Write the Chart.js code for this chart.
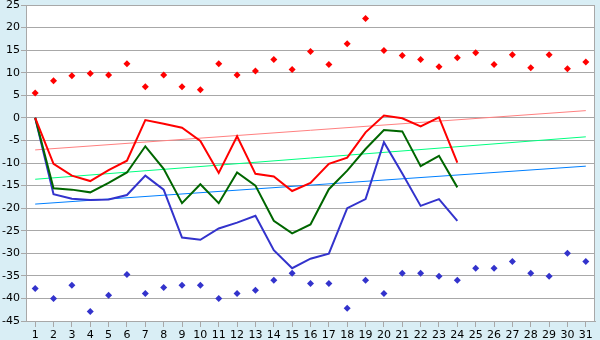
<!DOCTYPE html>
<html>
<head>
<meta charset="utf-8">
<script src="https://cdn.jsdelivr.net/npm/chart.js@4/dist/chart.umd.min.js"></script>
<style>
html,body{margin:0;padding:0;background:#d9eef5;}
#wrap{width:600px;height:340px;}
</style>
</head>
<body>
<div id="wrap"><canvas id="c" width="600" height="340"></canvas></div>
<script>
const categories = ['1','2','3','4','5','6','7','8','9','10','11','12','13','14','15','16','17','18','19','20','21','22','23','24','25','26','27','28','29','30','31'];
const redLine   = [0,-10.2,-12.8,-14.0,-11.6,-9.5,-0.5,-1.3,-2.2,-5.1,-12.2,-4.1,-12.4,-13.0,-16.2,-14.4,-10.2,-8.8,-3.2,0.5,-0.1,-1.9,0.1,-9.9];
const greenLine = [0,-15.6,-15.9,-16.5,-14.4,-12.1,-6.3,-11.3,-18.9,-14.7,-18.9,-12.1,-15.0,-22.8,-25.6,-23.6,-15.8,-11.7,-6.9,-2.7,-3.0,-10.7,-8.4,-15.4];
const blueLine  = [0,-16.9,-17.9,-18.2,-18.1,-17.1,-12.8,-15.9,-26.5,-27.0,-24.5,-23.2,-21.7,-29.3,-33.3,-31.2,-30.1,-20.0,-18.0,-5.4,-12.3,-19.5,-18.0,-22.8];
const redPoints  = [5.5,8.2,9.3,9.8,9.5,12.0,6.9,9.5,6.9,6.2,12.0,9.5,10.4,12.9,10.7,14.7,11.8,16.4,22.0,14.9,13.8,12.9,11.3,13.3,14.4,11.8,14.0,11.1,14.0,10.9,12.4];
const bluePoints = [-37.8,-40.0,-37.1,-42.9,-39.3,-34.7,-38.9,-37.6,-37.1,-37.1,-40.0,-38.9,-38.2,-36.0,-34.4,-36.7,-36.7,-42.2,-36.0,-38.9,-34.4,-34.4,-35.1,-36.0,-33.3,-33.3,-31.8,-34.4,-35.1,-30.0,-31.8];
const redTrend   = [-7.1, 1.6];
const greenTrend = [-13.6, -4.2];
const blueTrend  = [-19.1, -10.7];
const yTicks = {min:-45, max:25, step:5};

function trendData(ends){
  const d = categories.map(()=>null);
  d[0] = ends[0];
  d[d.length-1] = ends[1];
  return d;
}

const bgPlugin = {
  id:'bg',
  beforeDraw(chart){
    const {ctx, chartArea:a} = chart;
    ctx.save();
    ctx.fillStyle = '#d9eef5';
    ctx.fillRect(0,0,chart.width,chart.height);
    ctx.fillStyle = '#ffffff';
    ctx.fillRect(a.left,a.top,a.right-a.left,a.bottom-a.top);
    ctx.restore();
  },
  afterDraw(chart){
    const {ctx, chartArea:a} = chart;
    ctx.save();
    ctx.strokeStyle = '#a8a8a8';
    ctx.lineWidth = 1;
    ctx.strokeRect(a.left+0.5,a.top+0.5,a.right-a.left-1,a.bottom-a.top);
    ctx.restore();
  }
};

const lineDs = (data,color,w) => ({type:'line',data,borderColor:color,backgroundColor:color,borderWidth:w,pointRadius:0,fill:false,tension:0});
const ptDs = (data,color) => ({type:'line',data,showLine:false,borderColor:color,backgroundColor:color,pointStyle:'rectRot',pointRadius:3.5,pointBorderWidth:0});

new Chart(document.getElementById('c'),{
  type:'line',
  data:{
    labels:categories,
    datasets:[
      ptDs(redPoints,'#ff0000'),
      ptDs(bluePoints,'#3333cc'),
      lineDs(redLine,'#ff0000',2),
      lineDs(greenLine,'#006600',2),
      lineDs(blueLine,'#3333cc',2),
      Object.assign(lineDs(trendData(redTrend),'#ff8080',1),{spanGaps:true}),
      Object.assign(lineDs(trendData(greenTrend),'#00ff80',1),{spanGaps:true}),
      Object.assign(lineDs(trendData(blueTrend),'#0080ff',1),{spanGaps:true})
    ]
  },
  options:{
    responsive:false,
    animation:false,
    events:[],
    layout:{padding:{top:5,right:5,left:0,bottom:0}},
    plugins:{legend:{display:false},tooltip:{enabled:false}},
    scales:{
      x:{
        offset:true,
        grid:{display:true,offset:false,drawOnChartArea:false,drawTicks:true,tickLength:6,color:'#a8a8a8'},
        border:{color:'#a8a8a8'},
        ticks:{color:'#000',font:{family:'DejaVu Sans',size:11},padding:2,maxRotation:0,autoSkip:false},
        afterFit(s){s.height=19;}
      },
      y:{
        min:yTicks.min,max:yTicks.max,
        grid:{color:'#a8a8a8',drawTicks:true,tickLength:5},
        border:{color:'#a8a8a8'},
        ticks:{stepSize:yTicks.step,color:'#000',font:{family:'DejaVu Sans',size:11},padding:1},
        afterFit(s){s.width=26;s.paddingTop=0;s.paddingBottom=0;}
      }
    }
  },
  plugins:[bgPlugin]
});
</script>
</body>
</html>
